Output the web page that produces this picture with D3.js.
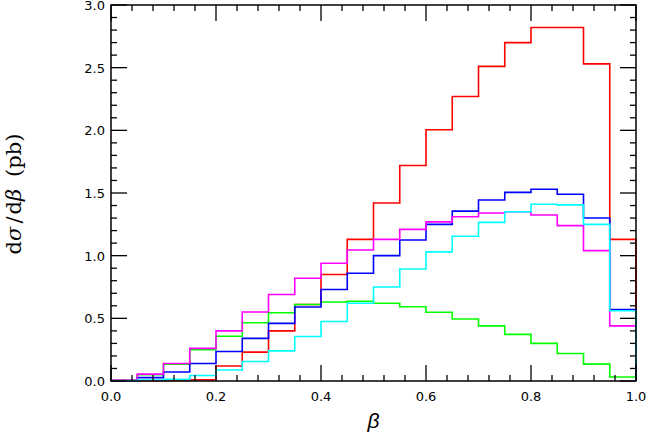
<!DOCTYPE html>
<html>
<head>
<meta charset="utf-8">
<script src="https://cdn.jsdelivr.net/npm/d3@7"></script>
<style>
  html, body { margin: 0; padding: 0; background: #fff; }
  svg { display: block; }
</style>
</head>
<body>
<svg id="chart" width="648" height="436"></svg>
<script>
// ---- data ----
const binStarts = [0.00, 0.05, 0.10, 0.15, 0.20, 0.25, 0.30, 0.35, 0.40, 0.45,
                   0.50, 0.55, 0.60, 0.65, 0.70, 0.75, 0.80, 0.85, 0.90, 0.95];
const binEnd = 1.0;
const redValues     = [0.000, 0.002, 0.005, 0.010, 0.120, 0.230, 0.400, 0.610, 0.850, 1.130,
                       1.420, 1.720, 2.005, 2.270, 2.510, 2.700, 2.820, 2.820, 2.530, 1.130];
const greenValues   = [0.005, 0.050, 0.135, 0.250, 0.357, 0.465, 0.545, 0.610, 0.630, 0.636,
                       0.620, 0.593, 0.548, 0.495, 0.440, 0.372, 0.300, 0.220, 0.135, 0.032];
const blueValues    = [0.003, 0.027, 0.072, 0.140, 0.235, 0.340, 0.460, 0.590, 0.730, 0.860,
                       1.000, 1.125, 1.250, 1.355, 1.444, 1.505, 1.530, 1.490, 1.300, 0.570];
const magentaValues = [0.005, 0.055, 0.140, 0.260, 0.400, 0.550, 0.690, 0.820, 0.940, 1.045,
                       1.130, 1.210, 1.270, 1.310, 1.340, 1.350, 1.325, 1.240, 1.040, 0.440];
const cyanValues    = [0.002, 0.008, 0.013, 0.044, 0.088, 0.155, 0.240, 0.355, 0.475, 0.620,
                       0.750, 0.894, 1.030, 1.155, 1.266, 1.350, 1.410, 1.405, 1.250, 0.560];
const xTickLabels = ["0.0", "0.2", "0.4", "0.6", "0.8", "1.0"];
const xTickValues = [0, 0.2, 0.4, 0.6, 0.8, 1.0];
const yTickLabels = ["0.0", "0.5", "1.0", "1.5", "2.0", "2.5", "3.0"];
const yTickValues = [0, 0.5, 1.0, 1.5, 2.0, 2.5, 3.0];
const xMinorTicks = [0.04, 0.08, 0.12, 0.16, 0.24, 0.28, 0.32, 0.36, 0.44, 0.48, 0.52, 0.56,
                     0.64, 0.68, 0.72, 0.76, 0.84, 0.88, 0.92, 0.96];
const yMinorTicks = [0.1, 0.2, 0.3, 0.4, 0.6, 0.7, 0.8, 0.9, 1.1, 1.2, 1.3, 1.4, 1.6, 1.7, 1.8, 1.9,
                     2.1, 2.2, 2.3, 2.4, 2.6, 2.7, 2.8, 2.9];

const series = [
  { name: "red",     color: "#ff0000", values: redValues },
  { name: "green",   color: "#00ff00", values: greenValues },
  { name: "blue",    color: "#0000ff", values: blueValues },
  { name: "magenta", color: "#ff00ff", values: magentaValues },
  { name: "cyan",    color: "#00ffff", values: cyanValues }
];

// ---- layout ----
const plotLeft = 111, plotRight = 636, plotTop = 5, plotBottom = 381;
const svg = d3.select("#chart");
const x = d3.scaleLinear().domain([0, 1]).range([plotLeft, plotRight]);
const y = d3.scaleLinear().domain([0, 3]).range([plotBottom, plotTop]);

// histograms
const line = d3.line().x(d => x(d[0])).y(d => y(d[1])).curve(d3.curveStepAfter);
series.forEach(s => {
  const pts = [[binStarts[0], 0]];
  binStarts.forEach((b, i) => pts.push([b, s.values[i]]));
  pts.push([binEnd, s.values[s.values.length - 1]]);
  const path = line(pts) + "L" + x(binEnd) + "," + y(0);
  svg.append("path")
    .attr("d", path)
    .attr("fill", "none")
    .attr("stroke", s.color)
    .attr("stroke-width", 1.6);
});

// frame
svg.append("rect")
  .attr("x", plotLeft).attr("y", plotTop)
  .attr("width", plotRight - plotLeft).attr("height", plotBottom - plotTop)
  .attr("fill", "none").attr("stroke", "#000").attr("stroke-width", 1.5);

const majorLen = 16, minorLen = 6;
const tickG = svg.append("g").attr("stroke", "#000").attr("stroke-width", 1.3);
function xTicks(vals, len) {
  vals.forEach(v => {
    tickG.append("line").attr("x1", x(v)).attr("x2", x(v)).attr("y1", plotBottom).attr("y2", plotBottom - len);
    tickG.append("line").attr("x1", x(v)).attr("x2", x(v)).attr("y1", plotTop).attr("y2", plotTop + len);
  });
}
function yTicks(vals, len) {
  vals.forEach(v => {
    tickG.append("line").attr("x1", plotLeft).attr("x2", plotLeft + len).attr("y1", y(v)).attr("y2", y(v));
    tickG.append("line").attr("x1", plotRight).attr("x2", plotRight - len).attr("y1", y(v)).attr("y2", y(v));
  });
}
xTicks(xTickValues, majorLen);
xTicks(xMinorTicks, minorLen);
yTicks(yTickValues, majorLen);
yTicks(yMinorTicks, minorLen);

// tick labels
const tickFont = "'DejaVu Sans', sans-serif";
xTickValues.forEach((v, i) => {
  svg.append("text")
    .attr("x", x(v)).attr("y", 401)
    .attr("text-anchor", "middle")
    .attr("font-family", tickFont).attr("font-size", 13)
    .attr("fill", "#000")
    .text(xTickLabels[i]);
});
yTickValues.forEach((v, i) => {
  svg.append("text")
    .attr("x", 105).attr("y", y(v) + 5)
    .attr("text-anchor", "end")
    .attr("font-family", tickFont).attr("font-size", 13)
    .attr("fill", "#000")
    .text(yTickLabels[i]);
});

// axis titles
svg.append("text")
  .attr("x", (plotLeft + plotRight) / 2).attr("y", 428)
  .attr("text-anchor", "middle")
  .attr("font-family", "'Liberation Sans', sans-serif")
  .attr("font-style", "italic")
  .attr("font-size", 21)
  .text("β");

const yl = svg.append("text")
  .attr("transform", `translate(21, 194) rotate(-90)`)
  .attr("text-anchor", "middle")
  .attr("font-family", "'DejaVu Serif', 'Liberation Serif', serif")
  .attr("font-size", 21);
yl.append("tspan").text("d");
yl.append("tspan").attr("font-style", "italic").text("σ");
yl.append("tspan").attr("dx", 3).text("/");
yl.append("tspan").attr("dx", 2).text("d");
yl.append("tspan").attr("font-style", "italic").text("β");
yl.append("tspan").attr("dx", 12).text("(pb)");
</script>
</body>
</html>
